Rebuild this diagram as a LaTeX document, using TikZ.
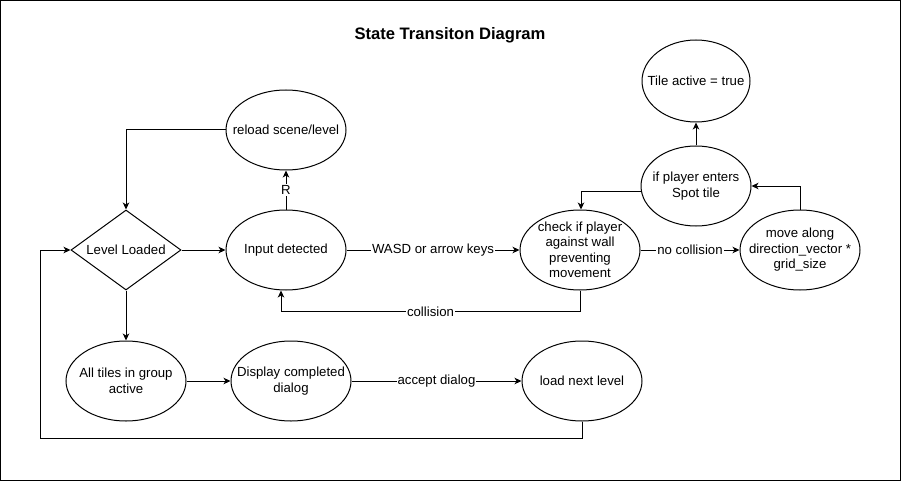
\documentclass[tikz,border=0pt]{standalone}
\usepackage{fontspec}
\setmainfont{Liberation Sans}
\usetikzlibrary{shapes.geometric,arrows.meta}
\begin{document}
\begin{tikzpicture}[x=1pt,y=-1pt,
  txt/.style={font=\fontsize{13.2}{15.5}\selectfont},
  state/.style={ellipse, draw, line width=1pt, minimum width=120pt, minimum height=80pt, inner sep=0pt, label={[txt,align=center]center:{#1}}},
  decision/.style={diamond, draw, line width=1pt, aspect=1.375, minimum width=110pt, minimum height=80pt, inner sep=0pt, align=center, txt},
  arr/.style={-{Stealth[length=7pt,width=6.5pt,inset=2pt]}, line width=1pt},
  lbl/.style={fill=white, inner sep=1pt, txt}]
\useasboundingbox (0,0) rectangle (901,481);
\draw[line width=1pt] (0.5,0.5) rectangle (900.5,480.5);
\node[font=\bfseries\fontsize{16.6}{19}\selectfont] (title) at (450,35) {State Transiton Diagram};

\node[state={reload scene/level}] (reload) at (286,130) {};
\node[state={Input detected}] (input) at (286,250) {};
\node[decision] (level) at (126,250) {Level Loaded};
\node[state={check if player\\against wall\\preventing\\movement}] (check) at (580,250) {};
\node[state={move along\\direction\_vector *\\grid\_size}] (move) at (800,250) {};
\node[state={if player enters\\Spot tile}, minimum width=110pt] (spot) at (696,186) {};
\node[state={Tile active = true}, minimum width=108pt, minimum height=82pt] (tile) at (696,81) {};
\node[state={All tiles in group\\active}] (alltiles) at (126,381) {};
\node[state={Display completed\\dialog}] (display) at (291,381) {};
\node[state={load next level}] (next) at (582,381) {};

\draw[arr] (level.east) -- (input.west);
\draw[arr] (reload.west) -| (level.north);
\draw[arr] (input.north) -- node[lbl]{R} (reload.south);
\draw[arr] (input.east) -- node[lbl]{WASD or arrow keys} (check.west);
\draw[arr] (check.south) -- ++(0,21) -| node[lbl,pos=0.25]{collision} ([xshift=-5pt]input.south);
\draw[arr] (check.east) -- node[lbl]{no collision} (move.west);
\draw[arr] (move.north) |- (spot.east);
\draw[arr] ([yshift=-5pt]spot.west) -| ([xshift=1pt]check.north);
\draw[arr] (spot.north) -- (tile.south);
\draw[arr] (level.south) -- (alltiles.north);
\draw[arr] (alltiles.east) -- (display.west);
\draw[arr] (display.east) -- node[lbl]{accept dialog} (next.west);
\draw[arr] (next.south) -- ++(0,17) -| ([xshift=-30pt]level.west) -- (level.west);
\end{tikzpicture}
\end{document}
